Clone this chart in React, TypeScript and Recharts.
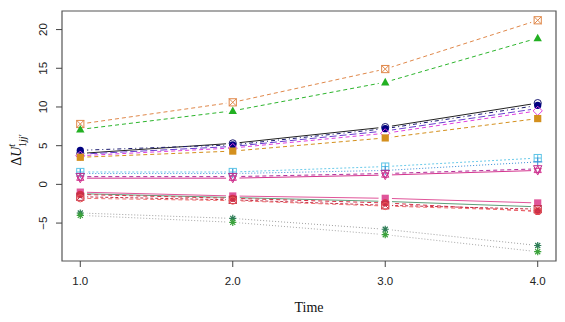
import React from "react";
import { LineChart, Line, XAxis, YAxis, ReferenceArea } from "recharts";

// ---- data ----
const times = [1, 2, 3, 4];
const xTicks = [1, 2, 3, 4];
const yTicks = [-5, 0, 5, 10, 15, 20];

const s1 = [7.8, 10.6, 14.9, 21.2];
const s2 = [7.1, 9.5, 13.2, 18.9];
const s3 = [4.0, 5.3, 7.4, 10.5];
const s4 = [4.4, 5.1, 7.2, 10.2];
const s5 = [3.9, 4.9, 6.9, 9.8];
const s6 = [3.7, 4.7, 6.6, 9.5];
const s7 = [3.5, 4.3, 6.0, 8.5];
const s8 = [1.6, 1.6, 2.3, 3.4];
const s9 = [1.4, 1.4, 1.8, 2.9];
const s10 = [0.8, 0.8, 1.2, 1.8];
const s11 = [1.0, 1.0, 1.4, 2.0];
const s12 = [-1.0, -1.5, -1.8, -2.4];
const s13 = [-1.2, -1.7, -2.2, -2.9];
const s14 = [-1.3, -1.8, -2.4, -3.5];
const s15 = [-1.6, -2.0, -2.7, -3.2];
const s16 = [-1.8, -2.1, -2.8, -3.4];
const s17 = [-3.7, -4.4, -5.8, -7.9];
const s18 = [-4.0, -4.9, -6.5, -8.7];

const seriesValues: Record<string, number[]> = {
  s1, s2, s3, s4, s5, s6, s7, s8, s9, s10, s11, s12, s13, s14, s15, s16, s17, s18,
};

const data = times.map((t, i) => {
  const row: Record<string, number> = { t };
  Object.keys(seriesValues).forEach((k) => {
    row[k] = seriesValues[k][i];
  });
  return row;
});

// ---- styles ----
type Style = { key: string; line: string; mark: string; dash?: string; shape: string };
const styles: Style[] = [
  { key: "s1", line: "#E0884A", mark: "#E0884A", dash: "4 3", shape: "sqX" },
  { key: "s2", line: "#2DB52D", mark: "#22B022", dash: "4 3", shape: "triF" },
  { key: "s3", line: "#222222", mark: "#1a1a70", shape: "circO" },
  { key: "s4", line: "#1a1a70", mark: "#000080", dash: "1 3 4 3", shape: "circF" },
  { key: "s5", line: "#6A3FD0", mark: "#6A3FD0", dash: "7 3", shape: "none" },
  { key: "s6", line: "#E040E0", mark: "#E040E0", dash: "4 3", shape: "diaO" },
  { key: "s7", line: "#D4901E", mark: "#D4901E", dash: "4 3", shape: "sqF" },
  { key: "s8", line: "#6CCBEA", mark: "#5CC4E6", dash: "2 2", shape: "sqPlus" },
  { key: "s9", line: "#3A8FD8", mark: "#3A8FD8", dash: "1 2", shape: "plus" },
  { key: "s10", line: "#D4358F", mark: "#D4358F", shape: "starD" },
  { key: "s11", line: "#B02E9A", mark: "#C03090", dash: "4 3", shape: "triDO" },
  { key: "s12", line: "#E0559A", mark: "#E0559A", shape: "sqF" },
  { key: "s13", line: "#5E9E7A", mark: "#5E9E7A", shape: "none" },
  { key: "s14", line: "#D83048", mark: "#D83048", dash: "4 3", shape: "circF" },
  { key: "s15", line: "#C0304A", mark: "#C0304A", dash: "3 2", shape: "sqX" },
  { key: "s16", line: "#F07070", mark: "#E85858", dash: "4 3", shape: "circO" },
  { key: "s17", line: "#A0A0A0", mark: "#2E7D57", dash: "1 2", shape: "ast" },
  { key: "s18", line: "#A8A8A8", mark: "#3CA33C", dash: "1 2", shape: "ast" },
];

const xDomain = [0.88, 4.12];
const yDomain = [-9.9, 22.4];
const W = 565;
const H = 322;
const MARGIN = { top: 11, right: 9, bottom: 0, left: 0 };

const Gap = ({ cx, cy }: any) => {
  if (cx == null || cy == null) return <g />;
  return <rect x={cx - 6.5} y={cy - 4} width={13} height={8} fill="#fff" />;
};

const Marker = ({ cx, cy, shape, color }: any) => {
  if (cx == null || cy == null || shape === "none") return <g />;
  const r = 3.6;
  const sw = 1;
  switch (shape) {
    case "sqX":
      return (
        <g stroke={color} strokeWidth={sw} fill="none">
          <rect x={cx - r} y={cy - r} width={2 * r} height={2 * r} />
          <path d={`M${cx - r},${cy - r}L${cx + r},${cy + r}M${cx + r},${cy - r}L${cx - r},${cy + r}`} />
        </g>
      );
    case "triF":
      return <path d={`M${cx},${cy - r - 0.8}L${cx + r + 0.6},${cy + r - 0.4}L${cx - r - 0.6},${cy + r - 0.4}Z`} fill={color} />;
    case "circF":
      return <circle cx={cx} cy={cy} r={r} fill={color} />;
    case "circO":
      return <circle cx={cx} cy={cy} r={r} fill="none" stroke={color} strokeWidth={sw} />;
    case "diaO":
      return <path d={`M${cx},${cy - r - 1}L${cx + r + 1},${cy}L${cx},${cy + r + 1}L${cx - r - 1},${cy}Z`} fill="none" stroke={color} strokeWidth={sw} />;
    case "sqF":
      return <rect x={cx - r} y={cy - r} width={2 * r} height={2 * r} fill={color} />;
    case "sqPlus":
      return (
        <g stroke={color} strokeWidth={sw} fill="none">
          <rect x={cx - r} y={cy - r} width={2 * r} height={2 * r} />
          <path d={`M${cx - r},${cy}L${cx + r},${cy}M${cx},${cy - r}L${cx},${cy + r}`} />
        </g>
      );
    case "plus":
      return <path d={`M${cx - r - 1},${cy}L${cx + r + 1},${cy}M${cx},${cy - r - 1}L${cx},${cy + r + 1}`} stroke={color} strokeWidth={sw} />;
    case "starD":
      return (
        <g stroke={color} strokeWidth={sw} fill="none">
          <path d={`M${cx},${cy - r - 1}L${cx + r},${cy + r * 0.6}L${cx - r},${cy + r * 0.6}Z`} />
          <path d={`M${cx},${cy + r + 1}L${cx + r},${cy - r * 0.6}L${cx - r},${cy - r * 0.6}Z`} />
        </g>
      );
    case "triDO":
      return <path d={`M${cx},${cy + r + 0.8}L${cx + r + 0.6},${cy - r + 0.4}L${cx - r - 0.6},${cy - r + 0.4}Z`} fill="none" stroke={color} strokeWidth={sw} />;
    case "ast":
      return (
        <g stroke={color} strokeWidth={1.2}>
          <path d={`M${cx - r},${cy}L${cx + r},${cy}M${cx},${cy - r}L${cx},${cy + r}M${cx - r * 0.7},${cy - r * 0.7}L${cx + r * 0.7},${cy + r * 0.7}M${cx + r * 0.7},${cy - r * 0.7}L${cx - r * 0.7},${cy + r * 0.7}`} />
        </g>
      );
    default:
      return <g />;
  }
};

const YTick = ({ x, y, payload }: any) => (
  <text
    transform={`translate(${x - 11},${y}) rotate(-90)`}
    textAnchor="middle"
    dominantBaseline="central"
    fontFamily="Liberation Sans, Arial, sans-serif"
    fontSize={11.5}
    fill="#222"
  >
    {payload.value < 0 ? `\u2212${Math.abs(payload.value)}` : String(payload.value)}
  </text>
);

const XTick = ({ x, y, payload }: any) => (
  <text
    x={x}
    y={y + 12}
    textAnchor="middle"
    dominantBaseline="central"
    fontFamily="Liberation Sans, Arial, sans-serif"
    fontSize={11.5}
    fill="#222"
  >
    {Number(payload.value).toFixed(1)}
  </text>
);

const YLabel = () => (
  <text
    transform="translate(21,150) rotate(-90)"
    textAnchor="middle"
    fontFamily="Liberation Serif, Times New Roman, serif"
    fontSize={14}
    fill="#111"
  >
    <tspan>Δ</tspan>
    <tspan fontStyle="italic">U</tspan>
    <tspan fontSize={10} fontStyle="italic" dy={-6}>t</tspan>
    <tspan fontSize={10} dx={-3} dy={11}>1</tspan>
    <tspan fontSize={10} fontStyle="italic">jj</tspan>
    <tspan fontSize={10}>′</tspan>
  </text>
);

const XLabel = () => (
  <text
    x={309}
    y={307}
    textAnchor="middle"
    dominantBaseline="central"
    fontFamily="Liberation Serif, Times New Roman, serif"
    fontSize={14}
    fill="#111"
  >
    Time
  </text>
);

const axes = (withText: boolean) => [
  <XAxis
    key="x"
    dataKey="t"
    type="number"
    domain={xDomain}
    ticks={xTicks}
    allowDataOverflow
    height={61}
    tickSize={6}
    tickMargin={2}
    axisLine={false}
    tickLine={withText ? { stroke: "#444", strokeWidth: 1 } : false}
    tick={withText ? <XTick /> : false}
    label={withText ? <XLabel /> : undefined}
  />,
  <YAxis
    key="y"
    type="number"
    domain={yDomain}
    ticks={yTicks}
    allowDataOverflow
    width={62}
    tickSize={6}
    tickMargin={2}
    axisLine={false}
    tickLine={withText ? { stroke: "#444", strokeWidth: 1 } : false}
    tick={withText ? <YTick /> : false}
    label={withText ? <YLabel /> : undefined}
  />,
];

export default function App() {
  return (
    <div style={{ position: "absolute", left: 0, top: 0, width: W, height: H, background: "#fff" }}>
      {/* layer 1: connecting lines */}
      <div style={{ position: "absolute", left: 0, top: 0 }}>
        <LineChart width={W} height={H} data={data} margin={MARGIN}>
          {axes(false)}
          {styles.map((s) => (
            <Line
              key={"l" + s.key}
              dataKey={s.key}
              stroke={s.line}
              strokeWidth={1}
              strokeDasharray={s.dash}
              dot={false}
              activeDot={false}
              isAnimationActive={false}
              type="linear"
            />
          ))}
        </LineChart>
      </div>
      {/* layer 2: gaps around points (type "b"), box, axes and markers */}
      <div style={{ position: "absolute", left: 0, top: 0 }}>
        <LineChart width={W} height={H} data={data} margin={MARGIN}>
          {axes(true)}
          <ReferenceArea
            x1={xDomain[0]}
            x2={xDomain[1]}
            y1={yDomain[0]}
            y2={yDomain[1]}
            fill="none"
            stroke="#555"
            strokeWidth={1.2}
          />
          {styles.map((s) => (
            <Line
              key={"g" + s.key}
              dataKey={s.key}
              stroke="none"
              dot={(p: any) => <Gap key={p.key ?? p.index} cx={p.cx} cy={p.cy} />}
              activeDot={false}
              isAnimationActive={false}
              legendType="none"
            />
          ))}
          {styles.map((s) => (
            <Line
              key={"m" + s.key}
              dataKey={s.key}
              stroke="none"
              dot={(p: any) => <Marker key={p.key ?? p.index} cx={p.cx} cy={p.cy} shape={s.shape} color={s.mark} />}
              activeDot={false}
              isAnimationActive={false}
              legendType="none"
            />
          ))}
        </LineChart>
      </div>
    </div>
  );
}
